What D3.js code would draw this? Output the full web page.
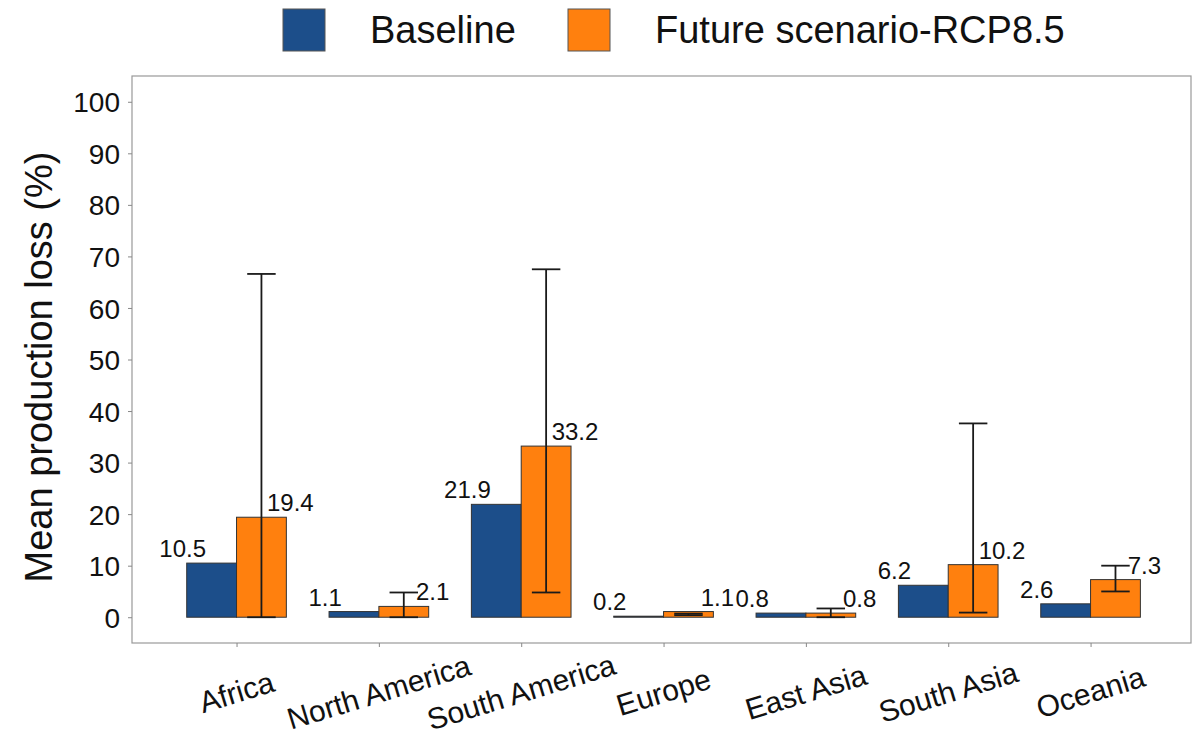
<!DOCTYPE html>
<html>
<head>
<meta charset="utf-8">
<script src="https://cdn.jsdelivr.net/npm/d3@7"></script>
<style>
  body { margin: 0; background: #fff; }
  text { font-family: "Liberation Sans", Arial, Helvetica, sans-serif; fill: #111; }
</style>
</head>
<body>
<div id="chart"></div>
<script>
var regions = ['Africa', 'North America', 'South America', 'Europe', 'East Asia', 'South Asia', 'Oceania'];
var baseline = [10.5, 1.1, 21.9, 0.2, 0.8, 6.2, 2.6];
var future = [19.4, 2.1, 33.2, 1.1, 0.8, 10.2, 7.3];
var futureLow = [0, 0, 4.8, 0.4, 0, 0.9, 5.0];
var futureHigh = [66.6, 4.8, 67.5, 0.7, 1.7, 37.6, 10.0];
var yTicks = [0, 10, 20, 30, 40, 50, 60, 70, 80, 90, 100];
var series = ['Baseline', 'Future scenario-RCP8.5'];

var
  w = 1202,
  h = 737,
  pLeft = 132, pRight = 1191, pTop = 76, pBottom = 643,
  colors = ['#1c4e8a', '#ff800e'];

var x = d3.scalePoint().domain(regions).range([pLeft, pRight]).padding(0.72).align(0.51);
var y = d3.scaleLinear().domain([-5, 105]).range([pBottom, pTop]);
var step = x.step();
var bw = step * 0.35;

var svg = d3.select('#chart').append('svg')
  .attr('width', w)
  .attr('height', h);

// panel border
svg.append('rect')
  .attr('x', pLeft).attr('y', pTop)
  .attr('width', pRight - pLeft).attr('height', pBottom - pTop)
  .attr('fill', 'none').attr('stroke', '#999').attr('stroke-width', 1.2);

// y axis
var yAxis = svg.append('g')
  .attr('transform', 'translate(' + pLeft + ',0)')
  .call(d3.axisLeft(y).tickValues(yTicks).tickSize(4).tickPadding(8));
yAxis.select('.domain').remove();
yAxis.selectAll('line').attr('stroke', '#888');
yAxis.selectAll('text').style('font-size', '28px').attr('fill', '#111').attr('dy', '0.36em');

// x axis
var xAxis = svg.append('g')
  .attr('transform', 'translate(0,' + pBottom + ')')
  .call(d3.axisBottom(x).tickSize(4).tickFormat(''));
xAxis.select('.domain').remove();
xAxis.selectAll('line').attr('stroke', '#888');

svg.append('g').selectAll('text')
  .data(regions)
  .enter().append('text')
  .attr('transform', function(d) { return 'translate(' + x(d) + ',692) rotate(-17)'; })
  .attr('text-anchor', 'middle')
  .attr('dominant-baseline', 'central')
  .style('font-size', '30px')
  .text(function(d) { return d; });

// y title
svg.append('text')
  .attr('transform', 'translate(52,367) rotate(-90)')
  .attr('text-anchor', 'middle')
  .style('font-size', '38px')
  .text('Mean production loss (%)');

// bars
var bars = svg.append('g');
[baseline, future].forEach(function(vals, s) {
  bars.selectAll('.bar' + s)
    .data(vals)
    .enter().append('rect')
    .attr('class', 'bar' + s)
    .attr('x', function(d, i) { return x(regions[i]) - bw + s * bw; })
    .attr('y', function(d) { return y(d); })
    .attr('width', bw)
    .attr('height', function(d) { return y(0) - y(d); })
    .attr('fill', colors[s])
    .attr('stroke', '#333')
    .attr('stroke-width', 1);
});

// error bars on future
var cap = step * 0.1;
var eb = svg.append('g').attr('stroke', '#1a1a1a').attr('stroke-width', 1.8);
regions.forEach(function(r, i) {
  var cx = x(r) + bw / 2;
  eb.append('line').attr('x1', cx).attr('x2', cx).attr('y1', y(futureLow[i])).attr('y2', y(futureHigh[i]));
  eb.append('line').attr('x1', cx - cap).attr('x2', cx + cap).attr('y1', y(futureLow[i])).attr('y2', y(futureLow[i]));
  eb.append('line').attr('x1', cx - cap).attr('x2', cx + cap).attr('y1', y(futureHigh[i])).attr('y2', y(futureHigh[i]));
});

// value labels
var labels = svg.append('g').style('font-size', '24px');
[baseline, future].forEach(function(vals, s) {
  labels.selectAll('.lab' + s)
    .data(vals)
    .enter().append('text')
    .attr('x', function(d, i) { return x(regions[i]) + (s === 0 ? -1 : 1) * bw * 1.08; })
    .attr('y', function(d) { return y(d) - 6; })
    .attr('text-anchor', 'middle')
    .text(function(d) { return d.toFixed(1); });
});

// legend
var legend = svg.append('g');
var legX = [283, 568];
series.forEach(function(name, s) {
  legend.append('rect')
    .attr('x', legX[s]).attr('y', 9)
    .attr('width', 42).attr('height', 42)
    .attr('fill', colors[s]).attr('stroke', '#555').attr('stroke-width', 1);
  legend.append('text')
    .attr('x', legX[s] + 87).attr('y', 30)
    .attr('dominant-baseline', 'central')
    .style('font-size', '38px')
    .text(name);
});
</script>
</body>
</html>
